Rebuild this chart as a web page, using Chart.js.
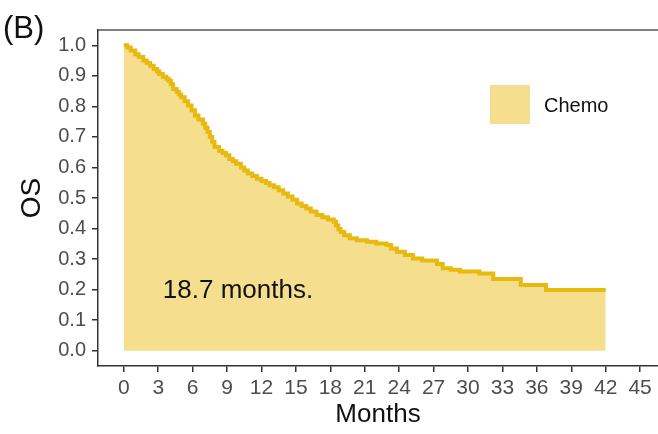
<!DOCTYPE html>
<html>
<head>
<meta charset="utf-8">
<script src="https://cdn.jsdelivr.net/npm/chart.js@4/dist/chart.umd.min.js"></script>
<style>
  html, body { margin: 0; padding: 0; background: #fff; }
  #wrap { width: 658px; height: 434px; }
</style>
</head>
<body>
<div id="wrap"><canvas id="os"></canvas></div>
<script>
// KM curve (months, survival)
const months = [0, 0.3, 0.6, 1.0, 1.3, 1.7, 2.0, 2.3, 2.6, 2.9, 3.1, 3.4, 3.7, 3.9, 4.1, 4.3, 4.6, 4.8, 5.0, 5.3,
  5.6, 5.9, 6.2, 6.5, 6.9, 7.1, 7.3, 7.5, 7.7, 7.9, 8.3, 8.6, 8.9, 9.2, 9.5, 9.8, 10.2, 10.5, 10.8, 11.2,
  11.6, 12.0, 12.4, 12.7, 13.1, 13.5, 13.9, 14.3, 14.7, 15.1, 15.5, 15.9, 16.3, 16.8, 17.3, 17.8, 18.3, 18.5, 18.7, 18.9,
  19.2, 19.7, 20.3, 21.2, 22.0, 22.9, 23.3, 23.8, 24.5, 25.2, 26.0, 27.3, 27.8, 28.5, 29.3, 31.0, 32.2, 34.6, 36.8, 42];
const survival = [1.0, 0.993, 0.983, 0.971, 0.962, 0.95, 0.942, 0.933, 0.922, 0.914, 0.906, 0.897, 0.89, 0.884, 0.872, 0.857, 0.848, 0.839, 0.83, 0.817,
  0.803, 0.787, 0.77, 0.757, 0.743, 0.73, 0.716, 0.7, 0.684, 0.667, 0.655, 0.647, 0.64, 0.628, 0.62, 0.612, 0.6, 0.59, 0.58, 0.572,
  0.563, 0.556, 0.549, 0.542, 0.535, 0.525, 0.515, 0.505, 0.494, 0.482, 0.474, 0.466, 0.456, 0.444, 0.437, 0.43, 0.422, 0.41,
  0.398, 0.389, 0.378, 0.368, 0.362, 0.357, 0.351, 0.346, 0.335, 0.324, 0.313, 0.302, 0.295, 0.284, 0.27, 0.265, 0.259, 0.253, 0.235, 0.215, 0.199, 0.199];
const xTicks = [0, 3, 6, 9, 12, 15, 18, 21, 24, 27, 30, 33, 36, 39, 42, 45];
const yTicks = [0, 0.1, 0.2, 0.3, 0.4, 0.5, 0.6, 0.7, 0.8, 0.9, 1.0];
const seriesName = 'Chemo';
const note = '18.7 months.';
const panelTag = '(B)';

const lineColor = '#E8B90E';
const fillColor = '#F5DE8E';
const axisColor = '#333333';
const tickText = '#4d4d4d';
const fontFamily = '"Liberation Sans", Arial, sans-serif';

// extra drawing: panel top border, legend, note, panel tag
const decor = {
  id: 'decor',
  afterDraw(chart) {
    const ctx = chart.ctx;
    const a = chart.chartArea;
    ctx.save();
    ctx.strokeStyle = '#555';
    ctx.lineWidth = 1.5;
    ctx.beginPath();
    ctx.moveTo(a.left, a.top);
    ctx.lineTo(a.right, a.top);
    ctx.stroke();

    // legend
    ctx.fillStyle = fillColor;
    ctx.fillRect(490, 85, 40, 39);
    ctx.fillStyle = '#111';
    ctx.font = '20px ' + fontFamily;
    ctx.textBaseline = 'middle';
    ctx.textAlign = 'left';
    ctx.fillText(seriesName, 544, 106);

    // note
    ctx.font = '26px ' + fontFamily;
    ctx.textAlign = 'center';
    ctx.fillText(note, 238, 291);

    // tag
    ctx.font = '31px ' + fontFamily;
    ctx.textAlign = 'left';
    ctx.textBaseline = 'alphabetic';
    ctx.fillText(panelTag, 3, 38);
    ctx.restore();
  }
};

const osCtx = document.getElementById('os').getContext('2d');
const osChart = new Chart(osCtx, {
  type: 'line',
  data: {
    datasets: [{
      label: seriesName,
      data: months.map((m, i) => ({ x: m, y: survival[i] })),
      borderColor: lineColor,
      backgroundColor: fillColor,
      borderWidth: 4,
      stepped: true,
      pointRadius: 0,
      fill: { value: 0 }
    }]
  },
  options: {
    responsive: true,
    maintainAspectRatio: false,
    animation: false,
    layout: { padding: { top: 30, right: 0, left: 0, bottom: 0 } },
    plugins: { legend: { display: false }, tooltip: { enabled: false } },
    scales: {
      x: {
        type: 'linear',
        min: -2.25,
        max: 46.56,
        afterBuildTicks: s => { s.ticks = xTicks.map(v => ({ value: v })); },
        afterFit: s => { s.height = 68; },
        grid: { drawOnChartArea: false, drawTicks: true, tickLength: 6, tickColor: axisColor, lineWidth: 1.5 },
        border: { display: true, color: axisColor, width: 1.5 },
        ticks: { color: tickText, font: { family: fontFamily, size: 21 }, padding: 4, maxRotation: 0, autoSkip: false },
        title: { display: true, text: 'Months', color: '#111', font: { family: fontFamily, size: 26 }, padding: { top: 0 } }
      },
      y: {
        min: -0.05,
        max: 1.05,
        afterBuildTicks: s => { s.ticks = yTicks.map(v => ({ value: v })); },
        afterFit: s => { s.width = 98; },
        grid: { drawOnChartArea: false, drawTicks: true, tickLength: 6, tickColor: axisColor, lineWidth: 1.5 },
        border: { display: true, color: axisColor, width: 1.5 },
        ticks: { color: tickText, font: { family: fontFamily, size: 20 }, padding: 6, callback: v => v.toFixed(1) },
        title: { display: true, text: 'OS', color: '#111', font: { family: fontFamily, size: 28 }, padding: { bottom: 0, top: 15 } }
      }
    }
  },
  plugins: [decor]
});
</script>
</body>
</html>
